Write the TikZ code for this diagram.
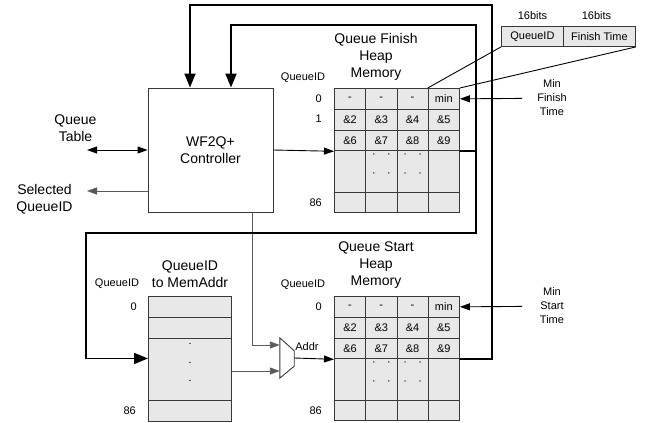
\documentclass[tikz,border=0pt]{standalone}
\usepackage{fontspec}
\setmainfont{Liberation Sans}
\usepackage{tikz}
\usetikzlibrary{positioning,arrows.meta}
\definecolor{cellgray}{HTML}{E8E8E8}
\definecolor{tabline}{HTML}{383838}
\definecolor{wiregray}{HTML}{5A5A5A}

\begin{document}
\begin{tikzpicture}[
    x=1pt, y=-1pt,
    every node/.style={inner sep=0pt},
    big/.style={font=\fontsize{14}{17}\selectfont, align=center},
    small/.style={font=\fontsize{11}{14}\selectfont, align=center},
    cell/.style={draw=tabline, fill=cellgray, line width=0.9pt, anchor=north west,
                 minimum width=31.25pt, minimum height=20.8pt, small},
    wire/.style={line width=1.8pt, -{Triangle[length=14pt, width=11pt]}},
    bus/.style={line width=1.8pt},
    sig/.style={line width=0.9pt, -{Triangle[length=10pt, width=7pt]}},
    graysig/.style={sig, draw=wiregray},
    link/.style={line width=0.9pt}
]
\useasboundingbox (0,0) rectangle (651,423);

% controller
\node[draw=tabline, line width=0.9pt, minimum width=125pt, minimum height=124pt, big]
    (ctrl) at (210.5,150) {WF2Q+\\Controller};

\node[big] (qtab) at (75.5,128.5) {Queue\\Table};
\node[big] (sel) at (44.5,199) {Selected\\QueueID};
\coordinate (qtabend) at (87,150);
\coordinate (selend) at (87,191);

% heap memories
\foreach \t/\y in {fin/88, st/296} {
  \foreach \c in {1,...,4} {
    \foreach \r/\dy/\h in {1/0/20.8, 2/20.8/20.8, 3/41.6/20.8, 4/62.4/42, 5/104.4/20}
      \node[cell, minimum height=\h pt] (\t-\r-\c) at ({334+(\c-1)*31.25}, \y+\dy) {};
  }
  \foreach \c/\txt in {1/-, 2/-, 3/-, 4/min}
    \node[small] at (\t-1-\c) {\txt};
  \foreach \c [evaluate=\c as \a using int(\c+1), evaluate=\c as \b using int(\c+5)] in {1,...,4} {
    \node[small] at (\t-2-\c) {\&\a};
    \node[small] at (\t-3-\c) {\&\b};
  }
  \foreach \c in {2,3}
    \foreach \dx in {-7.5,7.5}
      \foreach \dy in {3.5,22.5}
        \fill[tabline] (\t-4-\c.north) ++(\dx,\dy) circle (0.8);
}

\node[big] (fintitle) at (376,57) {Queue Finish\\Heap\\Memory};
\node[big] (sttitle) at (376,265) {Queue Start\\Heap\\Memory};

\node[small] (finid) at (303,78) {QueueID};
\node[small, anchor=east] at (322,98.4) {0};
\node[small, anchor=east] at (322,119.2) {1};
\node[small, anchor=east] at (322,202.4) {86};

\node[small] (stid) at (303,285) {QueueID};
\node[small, anchor=east] at (322,306.4) {0};
\node[small, anchor=east] at (322,410.4) {86};

% QueueID to MemAddr table
\foreach \r/\dy/\h in {1/0/21, 2/21/21, 3/42/62, 4/104/21}
  \node[cell, minimum width=83pt, minimum height=\h pt] (qmap-\r) at (148,296+\dy) {};
\foreach \dy in {-26,-7,11}
  \fill[tabline] (qmap-3) ++(0,\dy) circle (0.8);
\node[big] (qmaptitle) at (190,274) {QueueID\\to MemAddr};
\node[small] (qmapid) at (117,284) {QueueID};
\node[small, anchor=east] at (137,306.5) {0};
\node[small, anchor=east] at (136,410.5) {86};

% word format
\node[cell, minimum width=62pt, minimum height=20pt] (bitq) at (501,26) {QueueID};
\node[cell, minimum width=72pt, minimum height=20pt] (bitf) at (563,26) {Finish Time};
\node[small, above=6.5pt of bitq] {16bits};
\node[small, above=6.5pt of bitf, xshift=-3pt] {16bits};
\draw[link] (bitq.south west) -- (fin-1-4.north west);
\draw[link] (bitf.south east) -- (fin-1-4.north east);

% min labels
\node[small] (minf) at (552,98) {Min\\Finish\\Time};
\node[small] (mins) at (552,306) {Min\\Start\\Time};
\coordinate (minfend) at (522,98.4);
\coordinate (minsend) at (522,306.4);
\draw[sig] (minfend) -- (fin-1-4.east);
\draw[sig] (minsend) -- (st-1-4.east);

% mux
\node[minimum width=14pt, minimum height=40pt] (mux) at (287,358) {};
\draw[tabline, line width=0.9pt, fill=white] (mux.north west) -- ([yshift=-13pt]mux.north east)
    -- ([yshift=12pt]mux.south east) -- (mux.south west) -- cycle;
\node[small, anchor=west] (addr) at ([xshift=1pt, yshift=11pt]mux.east) {Addr};
\coordinate (muxin1) at ([yshift=13pt]mux.west);
\coordinate (muxin2) at ([yshift=-13pt]mux.west);

% connections
\draw[sig, {Triangle[length=10pt, width=7pt]}-{Triangle[length=10pt, width=7pt]}] (qtabend) -- (ctrl.west);
\draw[graysig] (ctrl.west |- selend) -- (selend);
\draw[sig] (ctrl.east) -- (fin-3-1.south west);
\draw[graysig] ([xshift=41.5pt]ctrl.south) |- (muxin1);
\draw[graysig] (qmap-3.east |- muxin2) -- (muxin2);
\draw[sig] (mux.east) -- (st-3-1.south west);

\coordinate (outerR) at (492,5);
\coordinate (innerR) at (476,25);
\coordinate (innerB) at (476,233);
\coordinate (loopL) at (86,233);

\draw[wire] (st-3-4.south east) -| (outerR) -| ([xshift=-20.5pt]ctrl.north);
\draw[wire] (fin-3-4.south east) -| (innerR) -| ([xshift=20.5pt]ctrl.north);
\draw[wire] (innerR) -- (innerB) -- (loopL) |- ([yshift=11pt]qmap-3.west);

\end{tikzpicture}
\end{document}
